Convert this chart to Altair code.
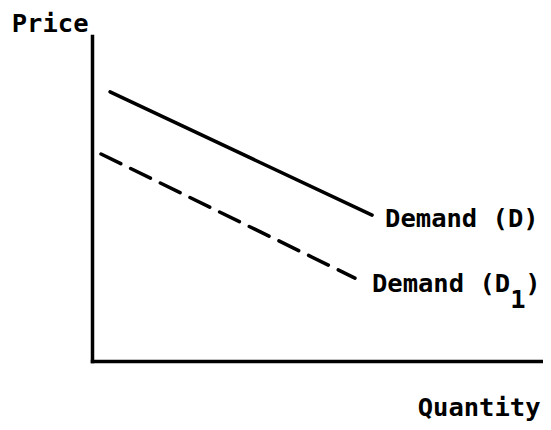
import altair as alt
import pandas as pd

# --- data (quantity / price in arbitrary units 0..10) ---
d_quantity = [0.40, 6.21]
d_price = [8.28, 4.49]
d1_quantity = [0.20, 5.83]
d1_price = [6.37, 2.55]
label_d = "Demand (D"
label_close = ")"
label_sub = "1"

x_domain = [0, 10]
y_domain = [0, 10]

df_d = pd.DataFrame({"quantity": d_quantity, "price": d_price})
df_d1 = pd.DataFrame({"quantity": d1_quantity, "price": d1_price})
end_d = df_d.iloc[[-1]]
end_d1 = df_d1.iloc[[-1]]

FONT = "DejaVu Sans Mono"
FS = 25.5

x = alt.X(
    "quantity:Q",
    scale=alt.Scale(domain=x_domain, nice=False, zero=False),
    axis=alt.Axis(
        title="Quantity", ticks=False, labels=False, grid=False,
        domainColor="black", domainWidth=3.5, domainCap="square",
        titleX=448, titleY=54, titleAlign="right", titleBaseline="alphabetic",
        titleAngle=0, titleFont=FONT, titleFontSize=FS, titleFontWeight="bold",
        titleColor="black",
    ),
)
y = alt.Y(
    "price:Q",
    scale=alt.Scale(domain=y_domain, nice=False, zero=False),
    axis=alt.Axis(
        title="Price", ticks=False, labels=False, grid=False,
        domainColor="black", domainWidth=3.5, domainCap="square",
        titleX=-4, titleY=-5, titleAlign="right", titleBaseline="alphabetic",
        titleAngle=0, titleFont=FONT, titleFontSize=FS, titleFontWeight="bold",
        titleColor="black",
    ),
)

line_d = alt.Chart(df_d).mark_line(
    color="black", strokeWidth=3.5, strokeCap="round"
).encode(x=x, y=y)

line_d1 = alt.Chart(df_d1).mark_line(
    color="black", strokeWidth=3.5, strokeCap="round", strokeDash=[22, 11]
).encode(x="quantity:Q", y="price:Q")

txt = dict(font=FONT, fontSize=FS, fontWeight="bold", color="black",
           baseline="alphabetic")

lab_d = alt.Chart(end_d).mark_text(
    text=label_d + label_close, align="left", dx=13, dy=12, **txt
).encode(x="quantity:Q", y="price:Q")

lab_d1 = alt.Chart(end_d1).mark_text(
    text=label_d, align="left", dx=17, dy=14, **txt
).encode(x="quantity:Q", y="price:Q")

lab_d1_sub = alt.Chart(end_d1).mark_text(
    text=label_sub, align="center", dx=163, dy=30, **txt
).encode(x="quantity:Q", y="price:Q")

lab_d1_close = alt.Chart(end_d1).mark_text(
    text=label_close, align="center", dx=178, dy=14, **txt
).encode(x="quantity:Q", y="price:Q")

chart = alt.layer(
    line_d, line_d1, lab_d, lab_d1, lab_d1_sub, lab_d1_close
).properties(
    width=451, height=325,
    autosize=alt.AutoSizeParams(type="none"),
    padding={"left": 84, "top": 28, "right": 0, "bottom": 61},
    background="white",
).configure_view(stroke=None)

chart.save("out.html", embed_options={"renderer": "svg", "actions": False})
